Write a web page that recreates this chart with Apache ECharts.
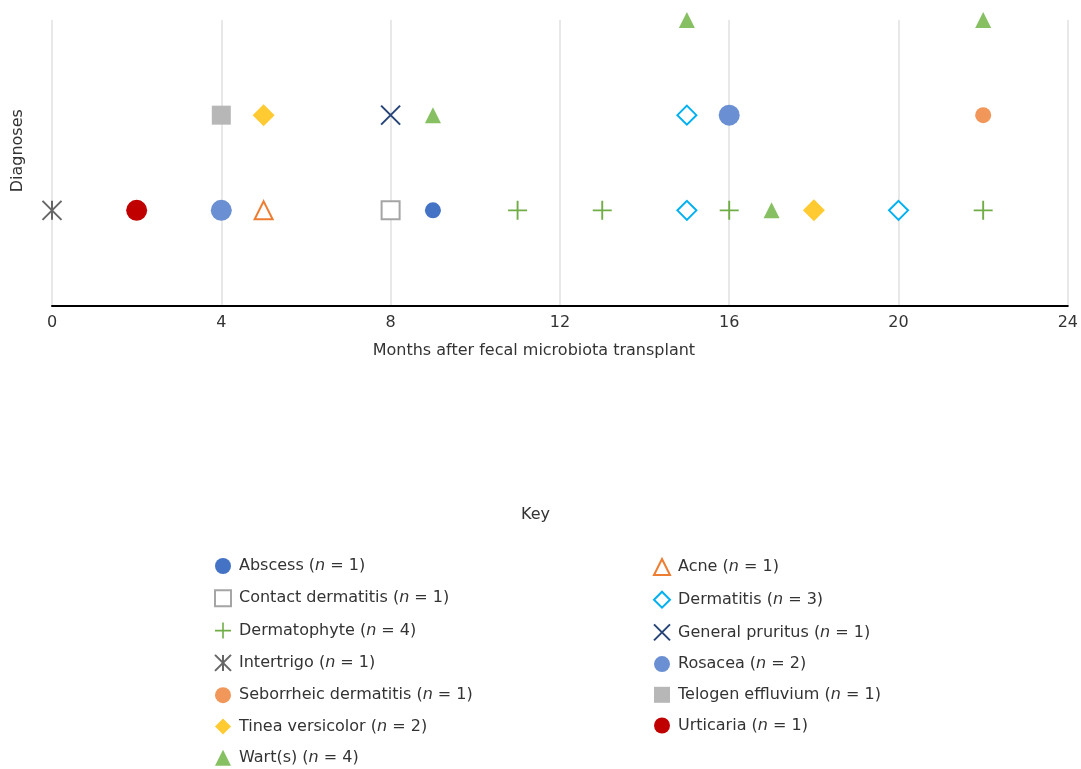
<!DOCTYPE html>
<html>
<head>
<meta charset="utf-8">
<script src="https://cdn.jsdelivr.net/npm/echarts@6/dist/echarts.min.js"></script>
<style>
html,body{margin:0;padding:0;background:#fff;}
#chart{width:1081px;height:769px;}
</style>
</head>
<body>
<div id="chart"></div>
<script>
// ---- data ----
const diagnoses = ["Abscess","Acne","Contact dermatitis","Dermatitis","Dermatophyte","General pruritus","Intertrigo","Rosacea","Seborrheic dermatitis","Telogen effluvium","Tinea versicolor","Urticaria","Wart(s)"];
const counts = [1,1,1,3,4,1,1,2,1,1,2,1,4];
// each point: [month, diagnosis row]
const abscess = [[9,1]];
const acne = [[5,1]];
const contactDermatitis = [[8,1]];
const dermatitis = [[15,1],[20,1],[15,2]];
const dermatophyte = [[11,1],[13,1],[16,1],[22,1]];
const generalPruritus = [[8,2]];
const intertrigo = [[0,1]];
const rosacea = [[4,1],[16,2]];
const seborrheicDermatitis = [[22,2]];
const telogenEffluvium = [[4,2]];
const tineaVersicolor = [[18,1],[5,2]];
const urticaria = [[2,1]];
const warts = [[17,1],[9,2],[15,3],[22,3]];
const xTicks = [0,4,8,12,16,20,24];

const seriesData = [abscess,acne,contactDermatitis,dermatitis,dermatophyte,generalPruritus,intertrigo,rosacea,seborrheicDermatitis,telogenEffluvium,tineaVersicolor,urticaria,warts];

const FONT = '"DejaVu Sans",sans-serif';
const styles = [
  {symbol:'circle', size:16, itemStyle:{color:'#4472C4'}},
  {symbol:'triangle', size:18, itemStyle:{color:'#ffffff', borderColor:'#ED7D31', borderWidth:2}},
  {symbol:'rect', size:18, itemStyle:{color:'#ffffff', borderColor:'#A5A5A5', borderWidth:2}},
  {symbol:'diamond', size:19, itemStyle:{color:'#ffffff', borderColor:'#00B0F0', borderWidth:2}},
  {symbol:'path://M9,0H11V9H20V11H11V20H9V11H0V9H9Z', size:19, itemStyle:{color:'#70AD47'}},
  {symbol:'path://M0,0L20,20M20,0L0,20', size:19, itemStyle:{color:'rgba(0,0,0,0)', borderColor:'#264478', borderWidth:2}},
  {symbol:'path://M0,0L20,20M20,0L0,20M10,0L10,20', size:19, itemStyle:{color:'rgba(0,0,0,0)', borderColor:'#666666', borderWidth:2}},
  {symbol:'circle', size:21, itemStyle:{color:'#6A8FD3'}},
  {symbol:'circle', size:16, itemStyle:{color:'#F1975A'}},
  {symbol:'rect', size:19, itemStyle:{color:'#B7B7B7'}},
  {symbol:'diamond', size:22, itemStyle:{color:'#FFCA32'}},
  {symbol:'circle', size:21, itemStyle:{color:'#C00000'}},
  {symbol:'triangle', size:16, itemStyle:{color:'#86C062'}}
];

const series = diagnoses.map((name,i)=>({
  name: name,
  type: 'scatter',
  data: seriesData[i],
  symbol: styles[i].symbol,
  symbolSize: styles[i].size,
  itemStyle: Object.assign({opacity: 1}, styles[i].itemStyle),
  clip: false,
  emphasis: {disabled: true}
}));

const leftNames = diagnoses.filter((d,i)=>i%2===0);
const rightNames = diagnoses.filter((d,i)=>i%2===1);

const legendCommon = {
  orient: 'vertical',
  top: 558,
  height: 240,
  padding: 0,
  itemWidth: 16,
  itemHeight: 16,
  itemGap: 15.3,
  selectedMode: false,
  formatter: function(name){
    const idx = diagnoses.indexOf(name);
    return '{a|' + name + ' (}{i|n}{a| = ' + counts[idx] + ')}';
  },
  textStyle: {
    fontFamily: FONT, fontSize: 16, color: '#333333', padding:[0,0,0,3],
    rich: {
      a: {fontFamily: FONT, fontSize: 16, color: '#333333', lineHeight: 18},
      i: {fontFamily: FONT, fontSize: 16, color: '#333333', fontStyle: 'italic', lineHeight: 18}
    }
  }
};

const chart = echarts.init(document.getElementById('chart'), null, {renderer:'canvas'});
chart.setOption({
  animation: false,
  backgroundColor: '#ffffff',
  title: {
    text: 'Key', left: 516, top: 502,
    textStyle: {fontFamily: FONT, fontSize: 16, fontWeight: 'normal', color: '#333333'}
  },
  grid: {left: 52, right: 9, top: 20, bottom: 463.5, containLabel: false},
  xAxis: {
    type: 'value', min: 0, max: 24, interval: 4,
    name: 'Months after fecal microbiota transplant',
    nameLocation: 'middle', nameGap: 37,
    nameTextStyle: {fontFamily: FONT, fontSize: 16, color: '#333333', padding:[0,52,0,0]},
    axisLine: {show: true, lineStyle: {color: '#000000', width: 2}},
    axisTick: {show: false},
    axisLabel: {fontFamily: FONT, fontSize: 16, color: '#333333', margin: 9,
      formatter: v => xTicks.includes(v) ? String(v) : ''},
    splitLine: {show: true, lineStyle: {color: '#E8E8E8', width: 2}}
  },
  yAxis: {
    type: 'value', min: 0, max: 3, interval: 1,
    name: 'Diagnoses', nameLocation: 'middle', nameGap: 26, nameRotate: 90,
    nameTextStyle: {fontFamily: FONT, fontSize: 16, color: '#333333', padding:[0,0,0,24]},
    axisLine: {show: false}, axisTick: {show: false}, axisLabel: {show: false},
    splitLine: {show: false}
  },
  legend: [
    Object.assign({}, legendCommon, {left: 214, data: leftNames}),
    Object.assign({}, legendCommon, {left: 653, itemGap: 14.7, data: rightNames})
  ],
  series: series
});
</script>
</body>
</html>
